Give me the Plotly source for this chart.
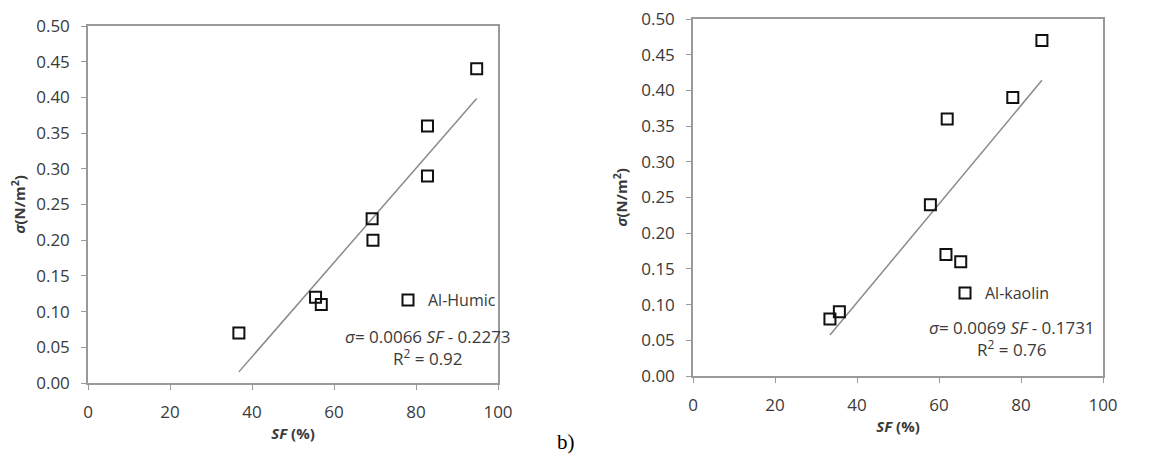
import plotly.graph_objects as go

# ---- data ----
humic_sf = [36.8, 55.5, 56.9, 69.3, 69.5, 82.8, 82.8, 94.8]
humic_sigma = [0.07, 0.12, 0.11, 0.23, 0.20, 0.36, 0.29, 0.44]
humic_slope = 0.0066
humic_intercept = -0.2273
humic_r2 = 0.92

kaolin_sf = [33.4, 35.7, 57.9, 62.0, 61.7, 65.3, 78.0, 85.1]
kaolin_sigma = [0.08, 0.09, 0.24, 0.36, 0.17, 0.16, 0.39, 0.47]
kaolin_slope = 0.0069
kaolin_intercept = -0.1731
kaolin_r2 = 0.76

x_ticks = [0, 20, 40, 60, 80, 100]
y_ticks = [0.00, 0.05, 0.10, 0.15, 0.20, 0.25, 0.30, 0.35, 0.40, 0.45, 0.50]

# page has an 8px body margin, so the figure is slightly smaller than the window
OFF = 8
W, H = 1158 - OFF, 463 - OFF
FONT = "Open Sans"
TXT = "#3a3a3a"


def px(xs):
    """screen x (px) -> paper x"""
    return (xs - OFF) / W


def py(ys):
    """screen y (px from top) -> paper y"""
    return (H - (ys - OFF)) / H


fig = go.Figure()


def add_panel(sf, sig, slope, icpt, name, xa, ya, legend):
    xs = [min(sf), max(sf)]
    ys = [slope * v + icpt for v in xs]
    fig.add_trace(go.Scatter(x=xs, y=ys, mode="lines", xaxis=xa, yaxis=ya,
                             line=dict(color="#8a8a8a", width=1.5),
                             showlegend=False, hoverinfo="skip"))
    fig.add_trace(go.Scatter(x=sf, y=sig, mode="markers", name=name,
                             xaxis=xa, yaxis=ya, legend=legend,
                             marker=dict(symbol="square-open", size=11,
                                         color="#111111",
                                         line=dict(width=2, color="#111111"))))


add_panel(humic_sf, humic_sigma, humic_slope, humic_intercept, "Al-Humic", "x", "y", "legend")
add_panel(kaolin_sf, kaolin_sigma, kaolin_slope, kaolin_intercept, "Al-kaolin", "x2", "y2", "legend2")

ax_common = dict(range=[0, 100], tickvals=x_ticks, showgrid=False, zeroline=False,
                 showline=True, mirror=True, linecolor="#9a9a9a", linewidth=1.5,
                 ticks="outside", ticklen=5, tickcolor="#9a9a9a", automargin=False,
                 ticklabelstandoff=8, ticklabeloverflow="allow",
                 tickfont=dict(family=FONT, size=17, color=TXT))
ay_common = dict(range=[0, 0.5], tickvals=y_ticks, tickformat=".2f", showgrid=False,
                 zeroline=False, showline=True, mirror=True, linecolor="#9a9a9a",
                 linewidth=1.5, ticks="outside", ticklen=5, tickcolor="#9a9a9a",
                 automargin=False, ticklabelstandoff=8, ticklabeloverflow="allow",
                 tickfont=dict(family=FONT, size=17, color=TXT))

xtitle = dict(text="<b><i>SF</i> (%)</b>", font=dict(family=FONT, size=15, color=TXT), standoff=6)
ytitle = dict(text="<b><i>σ</i>(N/m<sup>2</sup>)</b>", font=dict(family=FONT, size=15, color=TXT), standoff=10)

fig.update_layout(
    width=W, height=H,
    margin=dict(l=0, r=0, t=0, b=0, autoexpand=False),
    paper_bgcolor="white", plot_bgcolor="white",
    xaxis=dict(domain=[px(88), px(498)], anchor="y", title=xtitle, **ax_common),
    yaxis=dict(domain=[py(383), py(26)], anchor="x", title=ytitle, **ay_common),
    xaxis2=dict(domain=[px(693), px(1103)], anchor="y2", title=xtitle, **ax_common),
    yaxis2=dict(domain=[py(376), py(19)], anchor="x2", title=ytitle, **ay_common),
    legend=dict(x=px(388), y=py(300), xanchor="left", yanchor="middle",
                bgcolor="rgba(0,0,0,0)", itemwidth=30,
                font=dict(family=FONT, size=16, color=TXT)),
    legend2=dict(x=px(945), y=py(293), xanchor="left", yanchor="middle",
                 bgcolor="rgba(0,0,0,0)", itemwidth=30,
                 font=dict(family=FONT, size=16, color=TXT)),
)


def eq_text(slope, icpt, r2):
    sign = "-" if icpt < 0 else "+"
    return (f"<i>σ</i>= {slope:.4f} <i>SF</i> {sign} {abs(icpt):.4f}<br>"
            f"R<sup>2</sup> = {r2:.2f}")


fig.add_annotation(x=px(428), y=py(347), xref="paper", yref="paper",
                   xanchor="center", yanchor="middle",
                   text=eq_text(humic_slope, humic_intercept, humic_r2),
                   showarrow=False, align="center",
                   font=dict(family=FONT, size=17, color=TXT))
fig.add_annotation(x=px(1012), y=py(338), xref="paper", yref="paper",
                   xanchor="center", yanchor="middle",
                   text=eq_text(kaolin_slope, kaolin_intercept, kaolin_r2),
                   showarrow=False, align="center",
                   font=dict(family=FONT, size=17, color=TXT))
fig.add_annotation(x=px(566), y=py(442), xref="paper", yref="paper",
                   xanchor="center", yanchor="middle",
                   text="b)", showarrow=False,
                   font=dict(family="Liberation Serif", size=21, color="black"))

fig.write_html("out.html")
